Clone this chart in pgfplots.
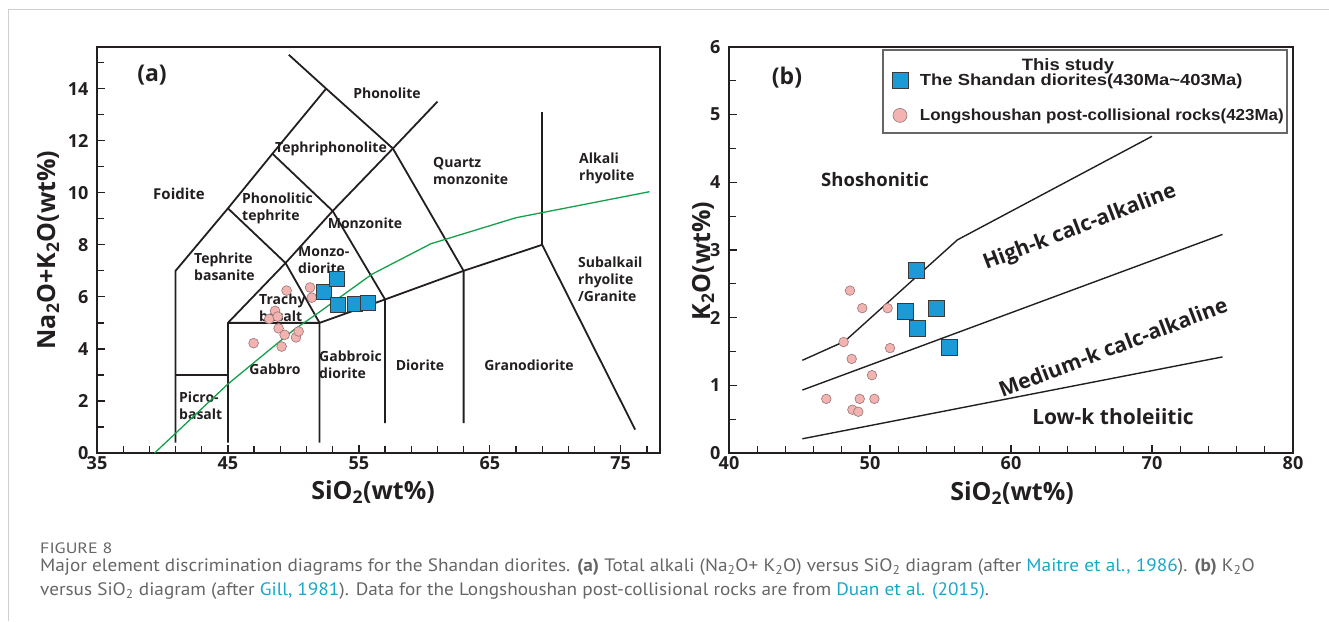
\documentclass[border=0pt]{standalone}
\usepackage{pgfplots}
\pgfplotsset{compat=1.18}
\usepackage{pgfplotstable}
\usepackage{fontspec}
\setmainfont{Open Sans}
\newfontfamily\legfont{Liberation Sans}
\newfontfamily\capfont{PT Sans}
\definecolor{sqblue}{HTML}{1C9AD6}
\definecolor{sqedge}{HTML}{3A3A3A}
\definecolor{pinkf}{HTML}{F2B3B1}
\definecolor{pinke}{HTML}{9A7474}
\definecolor{tasgreen}{HTML}{14A04A}
\definecolor{axblack}{HTML}{231F20}
\definecolor{capgray}{HTML}{666666}
\definecolor{linkc}{HTML}{1AA6C9}
\definecolor{framegray}{HTML}{CFCFCF}

\pgfplotstableread{
x y
52.35 6.20
53.3 6.68
53.4 5.69
54.7 5.73
55.7 5.76
}\shandanA
\pgfplotstableread{
x y
46.96 4.22
48.15 5.15
48.6 5.46
48.8 5.24
48.87 4.79
49.1 4.09
49.33 4.54
49.48 6.24
50.2 4.44
50.4 4.67
51.27 6.36
51.4 5.97
}\longA
\pgfplotstableread{
x y
52.48 2.09
53.31 2.70
53.38 1.85
54.73 2.14
55.62 1.56
}\shandanB
\pgfplotstableread{
x y
46.90 0.80
48.13 1.64
48.58 2.40
48.70 1.39
48.75 0.64
49.17 0.61
49.27 0.80
49.45 2.14
50.14 1.15
50.31 0.80
51.25 2.14
51.42 1.55
}\longB

\tikzset{
  reg/.style={font=\fontsize{14}{17}\selectfont\bfseries, text=axblack, inner sep=0pt},
  regl/.style={reg, anchor=west, align=left},
}
\pgfplotsset{
  tas/.style={axblack, line width=1.8pt, no markers, line join=miter, forget plot},
  gill/.style={axblack, line width=1.4pt, no markers, forget plot},
  sqmark/.style={only marks, mark=square*, mark options={fill=sqblue, draw=sqedge, line width=0.6pt}},
  cimark/.style={only marks, mark=*, mark options={fill=pinkf, draw=pinke, line width=0.6pt}},
  common/.style={
    scale only axis, anchor=south west,
    axis line style={axblack, line width=2.2pt},
    xtick pos=bottom, ytick pos=left, tick align=inside,
    major tick length=8pt, minor tick length=7pt,
    tick style={axblack, line width=1.3pt},
    ticklabel style={font=\fontsize{18}{18}\selectfont\bfseries, text=axblack},
    /pgf/number format/assume math mode=true,
    yticklabel style={xshift=-5pt},
  },
}

\begin{document}
\begin{tikzpicture}[x=1pt,y=1pt]
\path[use as bounding box] (0,0) rectangle (1329,621);
\draw[framegray, line width=1pt] (8,0) -- (8,611) -- (1329,611);

% ---- region labels (a)
\node[reg] at (387,528) {Phonolite};
\node[reg] at (331,472) {Tephriphonolite};
\node[regl] at (433,450) {Quartz\\monzonite};
\node[regl] at (579,453) {Alkali\\rhyolite};
\node[reg, font=\fontsize{15}{17}\selectfont\bfseries] at (179,427) {Foidite};
\node[regl] at (242,413) {Phonolitic\\tephrite};
\node[reg] at (365,398) {Monzonite};
\node[regl] at (194,354) {Tephrite\\basanite};
\node[regl] at (298,361) {Monzo-\\diorite};
\node[regl] at (578,342) {Subalkail\\rhyolite\\/Granite};
\node[regl] at (259,313) {Trachy\\basalt};
\node[regl] at (319,256) {Gabbroic\\diorite};
\node[reg] at (420,256) {Diorite};
\node[reg] at (529,256) {Granodiorite};
\node[reg] at (275,252) {Gabbro};
\node[regl] at (179,215) {Picro-\\basalt};
\node[reg, font=\fontsize{23}{23}\selectfont\bfseries] at (152,546) {(a)};

% ---- panel (a)
\begin{axis}[common,
  at={(97pt,168pt)}, width=563pt, height=406pt,
  xmin=35, xmax=78, ymin=0, ymax=15.6,
  xtick={35,45,55,65,75}, ytick={0,2,...,14},
  minor xtick={37,39,...,77}, minor ytick={1,3,...,15},
]
\addplot[tas] coordinates {(49.65,15.3) (52.5,14) (57.6,11.7) (63,7) (63,1.15)};
\addplot[tas] coordinates {(41,0.4) (41,7) (45,9.4) (48.4,11.5) (52.5,14)};
\addplot[tas] coordinates {(61,13.5) (57.6,11.7) (53,9.3) (49.4,7.3) (45,5) (45,0.4)};
\addplot[tas] coordinates {(45,9.4) (49.4,7.3) (52,5) (52,0.4)};
\addplot[tas] coordinates {(48.4,11.5) (53,9.3) (57,5.9) (57,1.15)};
\addplot[tas] coordinates {(41,3) (45,3)};
\addplot[tas] coordinates {(45,5) (52,5) (57,5.9) (63,7) (69,8) (76.1,0.9)};
\addplot[tas] coordinates {(69,8) (69,13.1)};
\addplot[tasgreen, line width=1.3pt, no markers] coordinates {(39.4,0) (45,2.65) (50,4.72) (52,5.42) (56,6.87) (60.5,8.04) (67,9.04) (77.2,10.04)};
\addplot[cimark, mark size=4.9pt] table {\longA};
\addplot[sqmark, mark size=7.5pt] table {\shandanA};
\end{axis}

% ---- region labels (b)
\node[reg, font=\fontsize{18.5}{18}\selectfont\bfseries] at (875,441) {Shoshonitic};
\node[reg, font=\fontsize{21}{21}\selectfont\bfseries, rotate=21] at (1080,393) {High-k calc-alkaline};
\node[reg, font=\fontsize{21}{21}\selectfont\bfseries, rotate=21] at (1113,274) {Medium-k calc-alkaline};
\node[reg, font=\fontsize{21}{21}\selectfont\bfseries] at (1113,204) {Low-k tholeiitic};
\node[reg, font=\fontsize{23}{23}\selectfont\bfseries] at (787,543) {(b)};

% ---- panel (b)
\begin{axis}[common,
  at={(729pt,168pt)}, width=564pt, height=406pt,
  xmin=40, xmax=80, ymin=0, ymax=6,
  xtick={40,50,...,80}, ytick={0,1,...,6},
  minor xtick={42,44,...,78}, minor ytick={0.5,1.5,...,5.5},
  legend style={at={(axis description cs:0.2886,0.938)}, anchor=north west,
    draw=none, fill=none, inner sep=0pt, row sep=20pt, column sep=12pt,
    font=\legfont\fontsize{16}{16}\selectfont\bfseries,
    nodes={inner sep=0pt, text=axblack}},
  legend cell align=left,
]
\addplot[gill] coordinates {(45.2,1.37) (48.2,1.65) (56.2,3.15) (70,4.68)};
\addplot[gill] coordinates {(45.2,0.93) (75,3.23)};
\addplot[gill] coordinates {(45.2,0.21) (75,1.42)};
\addplot[cimark, mark size=4.8pt, forget plot] table {\longB};
\addplot[sqmark, mark size=8pt, forget plot] table {\shandanB};
\addlegendimage{sqmark, mark size=8pt}
\addlegendentry{\scalebox{1.15}[1]{The Shandan diorites(430Ma\textasciitilde403Ma)}}
\addlegendimage{cimark, mark size=7pt}
\addlegendentry{\scalebox{1.06}[1]{Longshoushan post-collisional rocks(423Ma)}}
\end{axis}
\draw[gray!80!black, line width=1.3pt, fill=none] (883,571) rectangle (1287,488);
\node[font=\legfont\fontsize{16.5}{16}\selectfont\bfseries, text=axblack, inner sep=0pt] at (1068,555) {\scalebox{1.12}[1]{This study}};

% ---- axis titles
\node[font=\fontsize{25}{25}\selectfont\bfseries, text=axblack] at (373,129) {SiO\textsubscript{2}(wt\%)};
\node[font=\fontsize{25}{25}\selectfont\bfseries, text=axblack] at (1012,128) {SiO\textsubscript{2}(wt\%)};
\node[font=\fontsize{25}{25}\selectfont\bfseries, text=axblack, rotate=90] at (48,371) {Na\textsubscript{2}O+K\textsubscript{2}O(wt\%)};
\node[font=\fontsize{25}{25}\selectfont\bfseries, text=axblack, rotate=90] at (703,360) {K\textsubscript{2}O(wt\%)};

% ---- caption
\node[anchor=west, inner sep=0pt, font=\capfont\fontsize{15}{15}\selectfont, text=capgray] at (40,73) {\scalebox{1.2}[1]{FIGURE 8}};
\node[anchor=west, inner sep=0pt, font=\capfont\fontsize{18}{18}\selectfont, text=capgray] at (40,54) {\scalebox{1.07}[1]{Major element discrimination diagrams for the Shandan diorites. \textbf{(a)} Total alkali (Na\textsubscript{2}O+ K\textsubscript{2}O) versus SiO\textsubscript{2} diagram (after \textcolor{linkc}{Maitre et al., 1986}). \textbf{(b)} K\textsubscript{2}O}};
\node[anchor=west, inner sep=0pt, font=\capfont\fontsize{18}{18}\selectfont, text=capgray] at (40,30) {\scalebox{1.07}[1]{versus SiO\textsubscript{2} diagram (after \textcolor{linkc}{Gill, 1981}). Data for the Longshoushan post-collisional rocks are from \textcolor{linkc}{Duan et al. (2015)}.}};
\end{tikzpicture}
\end{document}
